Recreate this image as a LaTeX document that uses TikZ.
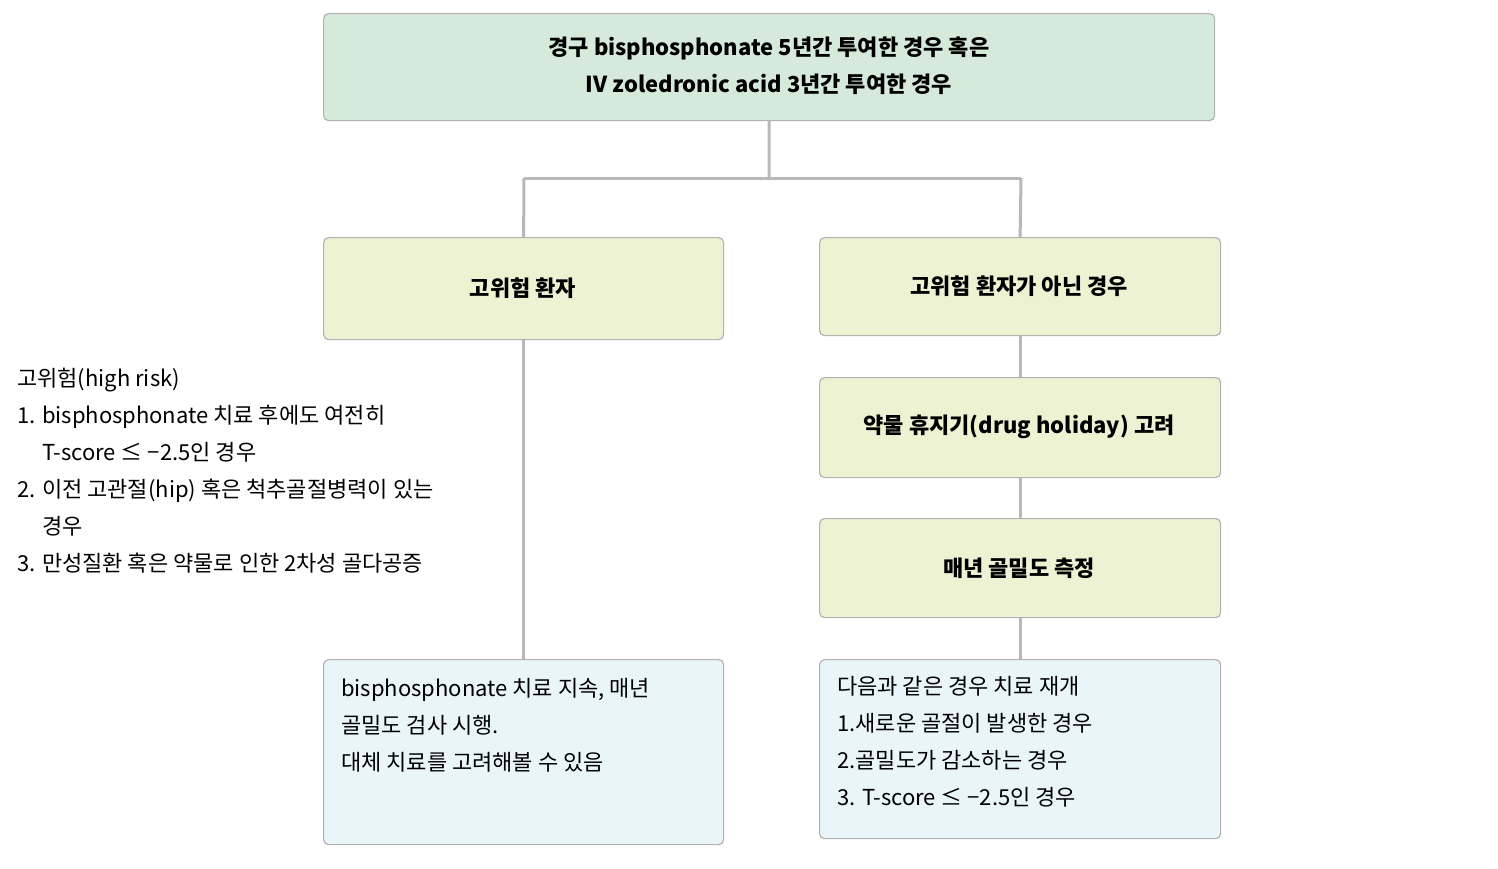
\documentclass[tikz,border=0pt]{standalone}
\usepackage{fontspec}
\setmainfont{Noto Sans CJK KR}
\begin{document}
\begin{tikzpicture}[x=1pt,y=-1pt,
 box/.style={draw=black!30,line width=1.2pt,rounded corners=5pt,anchor=north west,inner sep=0pt},
 gb/.style={box,fill={rgb,255:red,214;green,234;blue,219}},
 yb/.style={box,fill={rgb,255:red,237;green,243;blue,210}},
 bb/.style={box,fill={rgb,255:red,234;green,245;blue,250}},
 ln/.style={draw=black!28,line width=3pt},
 t/.style={font=\fontsize{22}{37}\selectfont\bfseries,align=center},
 p/.style={font=\fontsize{22}{37}\selectfont,align=left,anchor=north west,inner sep=0pt}]
\useasboundingbox (0,0) rectangle (1498,868);
\node[gb,minimum width=891pt,minimum height=107pt] (top) at (323,13) {};
\node[yb,minimum width=400pt,minimum height=102pt] (hr) at (323,237) {};
\node[yb,minimum width=401pt,minimum height=98pt] (nhr) at (819,237) {};
\node[yb,minimum width=401pt,minimum height=100pt] (dh) at (819,377) {};
\node[yb,minimum width=401pt,minimum height=99pt] (bmd) at (819,518) {};
\node[bb,minimum width=400pt,minimum height=185pt] (bl) at (323,659) {};
\node[bb,minimum width=401pt,minimum height=179pt] (br) at (819,659) {};
\coordinate (j) at (769,178);
\coordinate (jl) at (524,178);
\coordinate (jr) at (1021,178);
\draw[ln] (top.south) -- (j);
\draw[ln] (jl) -- (jr);
\draw[ln] (jl) -- (hr.north);
\draw[ln] (jr) -- (nhr.north);
\draw[ln] (hr.south) -- (bl.north);
\draw[ln] (nhr.south) -- (dh.north);
\draw[ln] (dh.south) -- (bmd.north);
\draw[ln] (bmd.south) -- (br.north);
\node[t] (tt) at (769,66) {경구 bisphosphonate 5년간 투여한 경우 혹은\\IV zoledronic acid 3년간 투여한 경우};
\node[t] (t1) at (523,288) {고위험 환자};
\node[t] (t2) at (1019,286) {고위험 환자가 아닌 경우};
\node[t] (t3) at (1019,427) {약물 휴지기(drug holiday) 고려};
\node[t] (t4) at (1019,568) {매년 골밀도 측정};
\node[p] (side) at (17,368) {고위험(high risk)\\1. bisphosphonate 치료 후에도 여전히\\\hspace*{25pt}T-score ≤ −2.5인 경우\\2. 이전 고관절(hip) 혹은 척추골절병력이 있는\\\hspace*{25pt}경우\\3. 만성질환 혹은 약물로 인한 2차성 골다공증};
\node[p] (pl) at (341,678) {bisphosphonate 치료 지속, 매년\\골밀도 검사 시행.\\대체 치료를 고려해볼 수 있음};
\node[p] (pr) at (837,676) {다음과 같은 경우 치료 재개\\1.새로운 골절이 발생한 경우\\2.골밀도가 감소하는 경우\\3. T-score ≤ −2.5인 경우};
\end{tikzpicture}
\end{document}
